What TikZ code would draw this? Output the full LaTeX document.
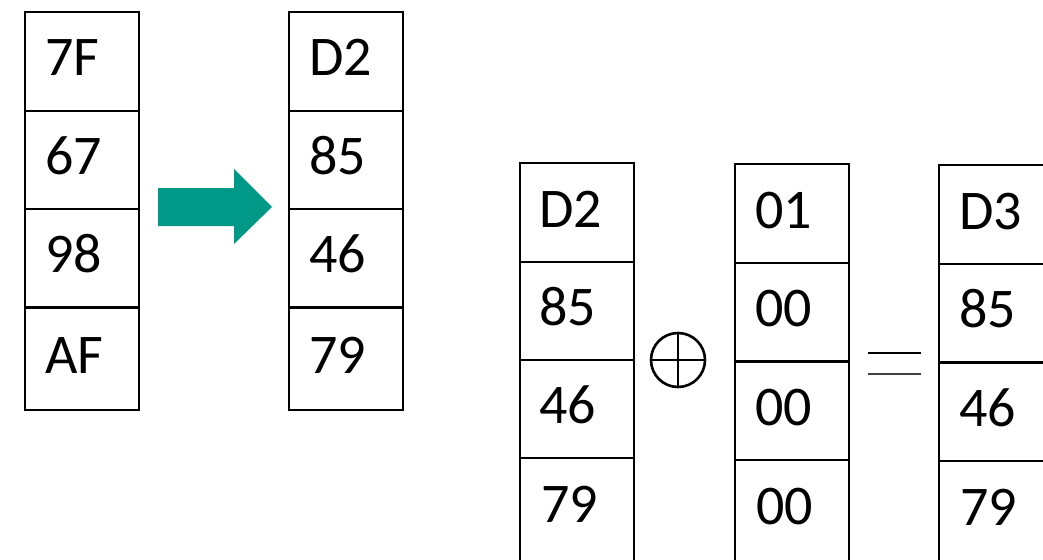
\documentclass[tikz,border=0pt]{standalone}
\usepackage{fontspec}
\setmainfont{Carlito}
\begin{document}
\begin{tikzpicture}[x=1pt,y=-1pt,
  cell/.style={draw, line width=2pt, rectangle, text width=74pt, inner xsep=20pt, inner ysep=0pt, align=left,
    font=\fontsize{56}{60}\selectfont, text height=37pt, text depth=8pt, minimum height=98pt},
  lone/.style={font=\fontsize{56}{60}\selectfont, anchor=base west, inner sep=0pt},
  arrowfill/.style={fill={rgb,255:red,0;green,153;blue,135}, draw=none}]
\useasboundingbox (0,0) rectangle (1043,559);
\clip (0,0) rectangle (1043,559);
% column 1
\node[cell, minimum height=99pt] (a1) at (82,61.5) {7F};
\node[cell] (a2) at (82,160) {67};
\node[cell] (a3) at (82,258) {98};
\node[cell, minimum height=102pt] (a4) at (82,359) {AF};
% column 2
\node[cell, minimum height=99pt] (b1) at (346,61.5) {D2};
\node[cell] (b2) at (346,160) {85};
\node[cell] (b3) at (346,258) {46};
\node[cell, minimum height=102pt] (b4) at (346,359) {79};
% arrow
\path[arrowfill] (158,188) -- (234,188) -- (234,169) -- (272,207) -- (234,244) -- (234,226) -- (158,226) -- cycle;
% column 3
\node[cell, minimum height=99pt] (c1) at (576.5,212.5) {D2};
\node[cell] (c2) at (576.5,311) {85};
\node[cell] (c3) at (576.5,409) {46};
\node[cell, minimum height=120pt] (c4) at (576.5,518) {};
\node[lone] (c4t) at (541,522) {79};
% oplus
\node[circle, draw, line width=2.6pt, minimum size=54pt, inner sep=0pt] (op) at (678,360) {};
\draw[line width=2.6pt] (op.north) -- (op.south) (op.west) -- (op.east);
% column 4
\node[cell, minimum height=99pt] (d1) at (792,213.5) {01};
\node[cell] (d2) at (792,312) {00};
\node[cell] (d3) at (792,411) {00};
\node[cell, minimum height=120pt] (d4) at (792,520) {};
\node[lone] (d4t) at (756,524) {00};
% equals
\coordinate (e1) at (868,353);
\coordinate (e2) at (921,353);
\coordinate (e3) at (868,374);
\coordinate (e4) at (921,374);
\draw[line width=1.2pt] (e1) -- (e2);
\draw[line width=1.2pt, black!75] (e3) -- (e4);
% column 5
\node[cell, minimum height=99pt] (f1) at (996,214.5) {D3};
\node[cell] (f2) at (996,313) {85};
\node[cell] (f3) at (996,412) {46};
\node[cell, minimum height=120pt] (f4) at (996,521) {};
\node[lone] (f4t) at (960,525) {79};
\end{tikzpicture}
\end{document}
